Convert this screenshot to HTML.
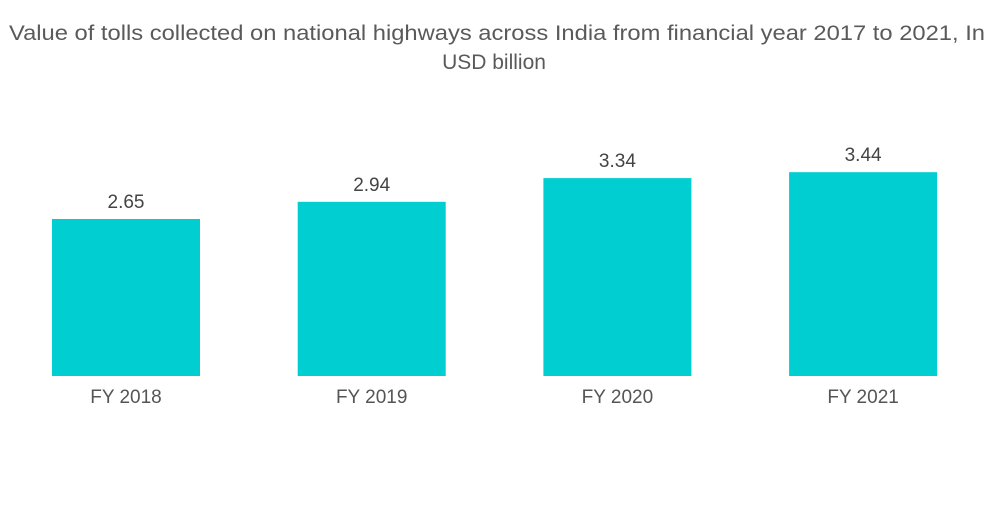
<!DOCTYPE html>
<html><head><meta charset="utf-8"><style>
body{margin:0;background:#fff;width:1000px;height:504px;overflow:hidden;font-family:"Liberation Sans",sans-serif}
</style></head><body>
<svg id="chart" width="1000" height="504" xmlns="http://www.w3.org/2000/svg">
<text x="497" y="40" text-anchor="middle" font-size="21" fill="#5a5a5a" textLength="976" lengthAdjust="spacingAndGlyphs">Value of tolls collected on national highways across India from financial year 2017 to 2021, In</text>
<text x="494" y="69" text-anchor="middle" font-size="21" fill="#5a5a5a">USD billion</text>
<g id="bars"></g>
</svg>
<script>
const categories=["FY 2018","FY 2019","FY 2020","FY 2021"];
const values=[2.65,2.94,3.34,3.44];
const valueLabels=["2.65","2.94","3.34","3.44"];
const baseY=376, pxPerUnit=59.25, x0=52, step=245.7, bw=148;
const yScale=v=>baseY-v*pxPerUnit;
const xScale=i=>x0+i*step;
const g=document.getElementById('bars');
const NS="http://www.w3.org/2000/svg";
categories.forEach((c,i)=>{
  const r=document.createElementNS(NS,'rect');
  
  
  r.setAttribute('x',xScale(i));r.setAttribute('y',yScale(values[i]));
  r.setAttribute('width',bw);r.setAttribute('height',baseY-yScale(values[i]));
  r.setAttribute('fill','#00ced1');g.appendChild(r);
  const t=document.createElementNS(NS,'text');
  
  
  t.setAttribute('x',xScale(i)+bw/2);t.setAttribute('y',yScale(values[i])-11);
  t.setAttribute('text-anchor','middle');t.setAttribute('font-size','19');t.setAttribute('fill','#444');
  t.textContent=valueLabels[i];g.appendChild(t);
  const l=document.createElementNS(NS,'text');
  
  
  l.setAttribute('x',xScale(i)+bw/2);l.setAttribute('y',403);
  l.setAttribute('text-anchor','middle');l.setAttribute('font-size','19');l.setAttribute('fill','#555');
  l.textContent=c;g.appendChild(l);
});
</script>
</body></html>
